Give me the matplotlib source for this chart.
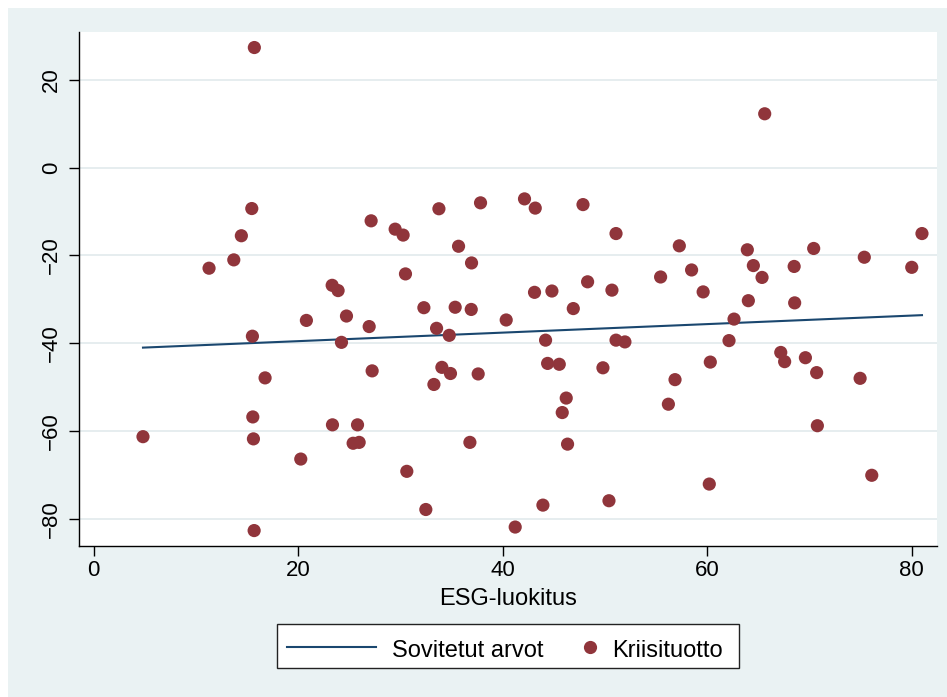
import matplotlib
matplotlib.use("Agg")
import matplotlib.pyplot as plt
from matplotlib.patches import Rectangle
from matplotlib.lines import Line2D

plt.rcParams['font.family'] = ['Liberation Sans', 'DejaVu Sans']

# ---- data ----
esg = [4.82, 11.28, 13.70, 14.44, 15.46, 15.71, 15.52, 15.56, 15.62, 15.69,
       16.76, 20.25, 20.80, 23.32, 23.90, 23.35, 24.23, 24.72, 25.37, 25.80,
       25.96, 26.94, 27.13, 27.23, 29.48, 30.26, 30.49, 30.62, 32.29, 32.48,
       33.27, 33.53, 33.76, 34.05, 34.77, 34.89, 35.35, 35.68, 36.79, 36.92,
       36.95, 37.60, 37.83, 40.34, 41.22, 42.13, 43.11, 43.18, 43.93, 44.19,
       44.39, 44.81, 45.53, 45.82, 46.21, 46.34, 46.90, 47.85, 48.30, 49.80,
       50.39, 50.68, 51.08, 51.08, 51.95, 55.44, 56.20, 56.85, 57.27, 58.47,
       59.60, 60.20, 60.30, 62.13, 62.62, 63.92, 64.02, 64.51, 65.36, 65.62,
       67.19, 67.57, 68.50, 68.55, 69.60, 70.41, 70.70, 70.77, 74.95, 75.36,
       76.09, 80.00, 81.00]
kriisi = [-61.3, -22.9, -21.0, -15.5, -9.3, 27.4, -38.4, -56.8, -61.8, -82.7,
          -47.9, -66.4, -34.8, -26.8, -28.0, -58.6, -39.8, -33.8, -62.8, -58.6,
          -62.6, -36.2, -12.1, -46.3, -14.0, -15.35, -24.2, -69.2, -31.9, -77.9,
          -49.4, -36.6, -9.35, -45.5, -38.2, -46.9, -31.8, -17.9, -62.6, -32.3,
          -21.7, -47.0, -8.0, -34.7, -81.9, -7.1, -28.4, -9.2, -76.9, -39.3,
          -44.6, -28.1, -44.8, -55.8, -52.5, -63.0, -32.1, -8.4, -26.0, -45.6,
          -75.9, -27.9, -15.0, -39.3, -39.7, -24.9, -53.9, -48.3, -17.8, -23.3,
          -28.3, -72.1, -44.3, -39.4, -34.5, -18.7, -30.3, -22.3, -25.0, 12.3,
          -42.1, -44.2, -22.5, -30.8, -43.3, -18.4, -46.7, -58.8, -48.0, -20.4,
          -70.1, -22.7, -15.0]
fit_x = [4.82, 81.0]
fit_y = [-41.0, -33.6]
xticks = [0, 20, 40, 60, 80]
yticks = [-80, -60, -40, -20, 0, 20]
xlabel = "ESG-luokitus"
legend_labels = ["Sovitetut arvot", "Kriisituotto"]

W, H = 947, 697
BG = '#eaf2f3'
MAROON = '#90353b'
NAVY = '#1a476f'

fig = plt.figure(figsize=(W / 100, H / 100), dpi=100, facecolor='white')

def fx(px):
    return px / W

def fy(py):
    return 1 - py / H

# graph region background (light bluish gray), white margin top/left
fig.patches.append(Rectangle((fx(8), 0), 1 - fx(8), fy(8), transform=fig.transFigure,
                             facecolor=BG, edgecolor='none', zorder=-10))

ax = fig.add_axes([fx(78.7), fy(545.7), fx(936.7) - fx(78.7), fy(32) - fy(545.7)])
ax.set_zorder(1)
ax.set_facecolor('white')
ax.set_xlim(-1.467, 82.44)
ax.set_ylim(-86.15, 30.94)

for yv in yticks:
    ax.axhline(yv, color='#e4ecee', lw=1.3, zorder=1)

ax.plot(fit_x, fit_y, color=NAVY, lw=1.5, zorder=3)
ax.scatter(esg, kriisi, s=90, color=MAROON, edgecolors='none', zorder=4)

for s in ['top', 'right']:
    ax.spines[s].set_visible(False)
for s in ['left', 'bottom']:
    ax.spines[s].set_linewidth(1.0)
    ax.spines[s].set_color('black')

ax.set_xticks(xticks)
ax.set_yticks(yticks)
ax.tick_params(axis='both', length=7.2, width=1.0, color='black', labelsize=16)
ax.tick_params(axis='x', pad=3)
ax.tick_params(axis='y', pad=5, labelrotation=90)
for lab in ax.get_yticklabels():
    lab.set_va('center')

fig.text(fx(507.7), fy(605), xlabel, ha='center', va='baseline', fontsize=17)

# legend box (drawn manually, Stata style)
fig.patches.append(Rectangle((fx(276.7), fy(668.3)), fx(739.3) - fx(276.7), fy(624) - fy(668.3),
                             transform=fig.transFigure, facecolor='white',
                             edgecolor='#222222', lw=1.0, zorder=2))
fig.lines.append(Line2D([fx(286.7), fx(376)], [fy(646.5), fy(646.5)], transform=fig.transFigure,
                        color=NAVY, lw=1.5, zorder=3))
fig.text(fx(391.7), fy(656.7), legend_labels[0], ha='left', va='baseline', fontsize=17, zorder=3)
fig.lines.append(Line2D([fx(590)], [fy(646.5)], transform=fig.transFigure, marker='o',
                        markersize=9.5, color=MAROON, markeredgewidth=0, linestyle='none', zorder=3))
fig.text(fx(611.7), fy(656.7), legend_labels[1], ha='left', va='baseline', fontsize=17, zorder=3)

fig.savefig('out.png', dpi=100, facecolor='white')
